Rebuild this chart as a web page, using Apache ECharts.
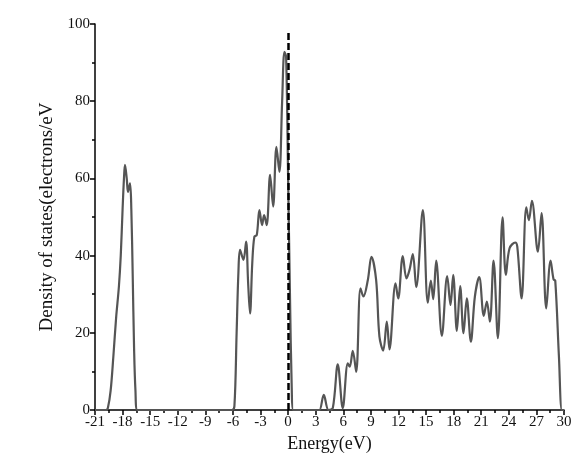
<!DOCTYPE html>
<html>
<head>
<meta charset="utf-8">
<script src="https://cdn.jsdelivr.net/npm/echarts@6/dist/echarts.min.js"></script>
<style>
  html, body { margin: 0; padding: 0; background: #fff; }
  #chart { width: 575px; height: 466px; }
</style>
</head>
<body>
<div id="chart"></div>
<script>
// Total density of states vs. energy (Fermi level at 0 eV)
const energy = [
  -21, -19.8, -19.6, -19.3, -19.0, -18.7, -18.4, -18.2, -18.0, -17.85, -17.74, -17.55, -17.41, -17.19, -17.05, -16.9, -16.75, -16.6, -16.4,
  -12, -6.1, -5.84, -5.6, -5.4, -5.23, -4.86, -4.57, -4.35, -4.14, -3.9, -3.67, -3.41, -3.12, -2.83, -2.61, -2.33, -1.96, -1.63, -1.27, -0.95, -0.65, -0.40, -0.22, 0.0, 0.2, 0.4, 0.55,
  3.2, 3.41, 3.88, 4.39, 4.86, 5.40, 5.94, 6.49, 6.70, 7.03, 7.40, 7.87, 8.19, 8.67, 9.06, 9.57, 9.93, 10.34, 10.73, 11.02, 11.68, 11.97, 12.47, 12.87, 13.2, 13.56, 13.93,
  14.65, 15.19, 15.52, 15.78, 16.10, 16.72, 17.30, 17.66, 17.95, 18.35, 18.71, 19.07, 19.43, 19.87, 20.31, 20.78, 21.28, 21.61, 21.94, 22.34, 22.81, 23.32, 23.68,
  24.08, 24.70, 24.92, 25.39, 25.90, 26.18, 26.51, 27.16, 27.56, 28.07, 28.54, 28.87, 29.05, 29.45, 29.77, 30
];
const dos = [
  0, 0, 0.5, 5, 14, 24, 32, 40, 52, 60, 63.5, 60, 56.5, 58.7, 52, 35, 16, 5, 0,
  0, 0, 1, 20, 36, 41.5, 38.9, 43.6, 33, 25, 38, 44.9, 45.3, 51.8, 47.9, 50.5, 47.9, 60.9, 52.7, 68.2, 61.7, 80, 92.8, 91.5, 60, 30, 5, 0,
  0, 0, 3.9, 0, 0.5, 11.8, 0.5, 12.1, 11.2, 15.3, 9.9, 31.5, 29.4, 33.7, 39.7, 33.7, 19, 15.4, 22.9, 15.7, 32.8, 28.9, 39.9, 34.1, 36.3, 40.4, 31.8,
  51.8, 27.8, 33.5, 28.7, 38.7, 19.2, 34.7, 27.2, 35, 20.5, 32.1, 19.9, 28.9, 17.7, 29.4, 34.4, 24.4, 28.1, 22.9, 38.7, 18.6, 49.9, 35,
  41.9, 43.4, 42.3, 28.9, 52.5, 49.2, 54.2, 41, 51, 26.3, 38.7, 33.8, 33.5, 13.8, 0, 0
];
const xTicks = [-21, 30, 3];   // min, max, step
const yTicks = [0, 100, 20];

const serif = '"Liberation Serif", "Times New Roman", serif';
const chart = echarts.init(document.getElementById('chart'));
chart.setOption({
  animation: false,
  grid: { left: 95, right: 11, top: 24, bottom: 56 },
  xAxis: {
    type: 'value',
    min: xTicks[0], max: xTicks[1], interval: xTicks[2],
    name: 'Energy(eV)', nameLocation: 'middle', nameGap: 20,
    nameTextStyle: { fontFamily: serif, fontSize: 18, color: '#111' },
    axisLine: { onZero: false, lineStyle: { color: '#000', width: 1.5 } },
    axisTick: { length: 5, lineStyle: { color: '#000', width: 1.5 } },
    minorTick: { show: true, splitNumber: 2, length: 3, lineStyle: { color: '#000', width: 1.5 } },
    axisLabel: { fontFamily: serif, fontSize: 15, color: '#111', margin: 5 },
    splitLine: { show: false }
  },
  yAxis: {
    type: 'value',
    min: yTicks[0], max: yTicks[1], interval: yTicks[2],
    name: 'Density of states(electrons/eV', nameLocation: 'middle', nameGap: 38,
    nameTextStyle: { fontFamily: serif, fontSize: 19, color: '#111' },
    axisLine: { show: true, onZero: false, lineStyle: { color: '#000', width: 1.5 } },
    axisTick: { show: true, length: 5, lineStyle: { color: '#000', width: 1.5 } },
    minorTick: { show: true, splitNumber: 2, length: 3, lineStyle: { color: '#000', width: 1.5 } },
    axisLabel: { fontFamily: serif, fontSize: 15, color: '#111', margin: 5 },
    splitLine: { show: false }
  },
  series: [{
    type: 'line',
    data: energy.map((e, i) => [e, dos[i]]),
    showSymbol: false,
    smooth: 0.35,
    lineStyle: { color: '#555', width: 2.2 },
    markLine: {
      silent: true,
      symbol: 'none',
      label: { show: false },
      lineStyle: { color: '#000', width: 2.5, type: [7, 3] },
      data: [[{ coord: [0, 0] }, { coord: [0, 98] }]]
    }
  }]
});
</script>
</body>
</html>
